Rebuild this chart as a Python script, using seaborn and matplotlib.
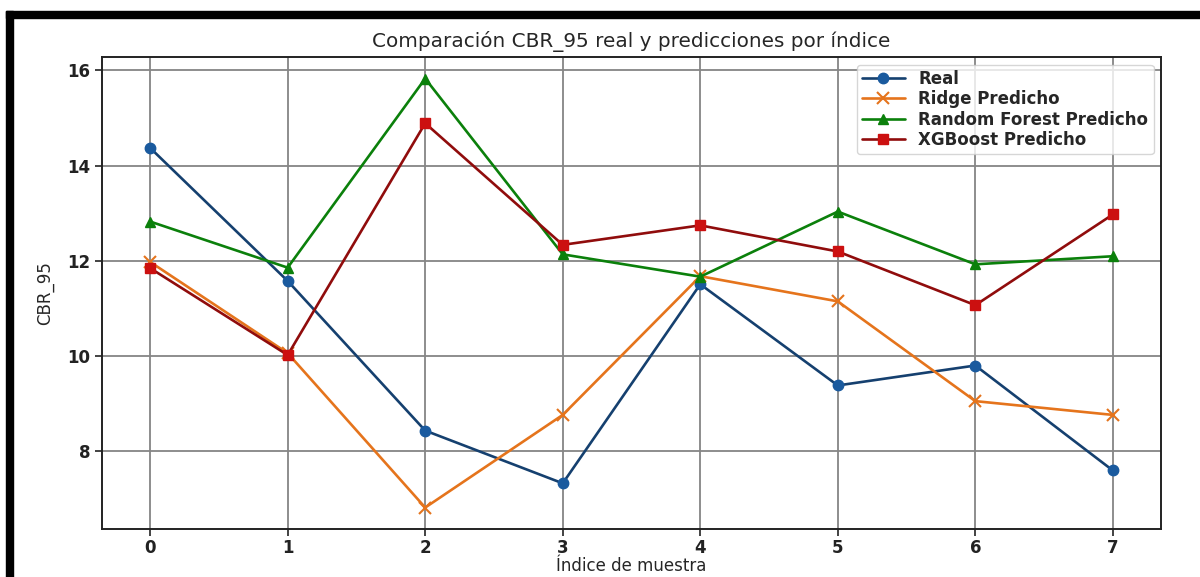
import matplotlib
matplotlib.use("Agg")
import matplotlib.pyplot as plt
from matplotlib.lines import Line2D
import seaborn as sns
import pandas as pd

# Sample indices and CBR_95 values per model
indices = [0, 1, 2, 3, 4, 5, 6, 7]
real = [14.37, 11.57, 8.42, 7.31, 11.50, 9.37, 9.79, 7.58]
ridge = [11.97, 10.05, 6.80, 8.75, 11.67, 11.14, 9.04, 8.75]
random_forest = [12.82, 11.85, 15.83, 12.13, 11.66, 13.03, 11.92, 12.09]
xgboost = [11.84, 10.01, 14.89, 12.33, 12.74, 12.19, 11.06, 12.97]

series_names = ["Real", "Ridge Predicho", "Random Forest Predicho", "XGBoost Predicho"]
series_values = [real, ridge, random_forest, xgboost]

styles = {
    "Real": dict(line="#15406f", face="#1a5a9e", marker="o", ms=7.5, mew=1.0),
    "Ridge Predicho": dict(line="#e5741c", face="#e5741c", marker="x", ms=8, mew=1.5),
    "Random Forest Predicho": dict(line="#0b800b", face="#0b800b", marker="^", ms=7.5, mew=1.0),
    "XGBoost Predicho": dict(line="#900c0c", face="#cc1010", marker="s", ms=7, mew=1.0),
}

frames = []
for name, vals in zip(series_names, series_values):
    frames.append(pd.DataFrame({"indice": indices, "valor": vals, "serie": name}))
df = pd.concat(frames, ignore_index=True)

sns.set_style("white")
fig = plt.figure(figsize=(12, 5.77), dpi=100)
ax = fig.add_axes([0.085, 0.0832, 0.8825, 0.8178])

for name in series_names:
    st = styles[name]
    sns.lineplot(
        data=df[df["serie"] == name], x="indice", y="valor", ax=ax,
        color=st["line"], marker=st["marker"], markersize=st["ms"],
        markerfacecolor=st["face"], markeredgecolor=st["face"],
        markeredgewidth=st["mew"], linewidth=1.9, label=name, zorder=3,
    )

ax.set_title("Comparación CBR_95 real y predicciones por índice", fontsize=14.4, pad=7)
ax.set_xlabel("Índice de muestra", fontsize=12, labelpad=0)
ax.set_ylabel("CBR_95", fontsize=12, labelpad=9)
ax.set_xticks(indices)
ax.set_yticks([8, 10, 12, 14, 16])
ax.tick_params(axis="both", labelsize=12, length=5, width=1.2, color="#222222",
               left=True, bottom=True)
ax.tick_params(axis="x", pad=2.5)
for lab in ax.get_xticklabels() + ax.get_yticklabels():
    lab.set_fontweight("bold")
    lab.set_color("#222222")

ax.grid(True, color="#858585", linewidth=1.3)
ax.set_axisbelow(True)
for sp in ax.spines.values():
    sp.set_color("#222222")
    sp.set_linewidth(1.4)

handles = []
for name in series_names:
    st = styles[name]
    handles.append(Line2D([0], [0], color=st["line"], marker=st["marker"],
                          markersize=st["ms"], markerfacecolor=st["face"],
                          markeredgecolor=st["face"], markeredgewidth=st["mew"],
                          linewidth=1.9))
leg = ax.legend(handles, series_names, loc="upper right",
                prop={"weight": "bold", "size": 12}, framealpha=0.8,
                borderpad=0.3, labelspacing=0.15, handlelength=2.6,
                handletextpad=0.8, borderaxespad=0.45)
leg.get_frame().set_edgecolor("#cccccc")

# Black frame along the top and left edges of the figure
fig.add_artist(plt.Rectangle((6 / 1200, 1 - 18 / 577), 1 - 6 / 1200, 7 / 577,
                             transform=fig.transFigure, color="black", zorder=10))
fig.add_artist(plt.Rectangle((6 / 1200, 0), 7 / 1200, 1 - 11 / 577,
                             transform=fig.transFigure, color="black", zorder=10))

fig.savefig("out.png", dpi=100)
